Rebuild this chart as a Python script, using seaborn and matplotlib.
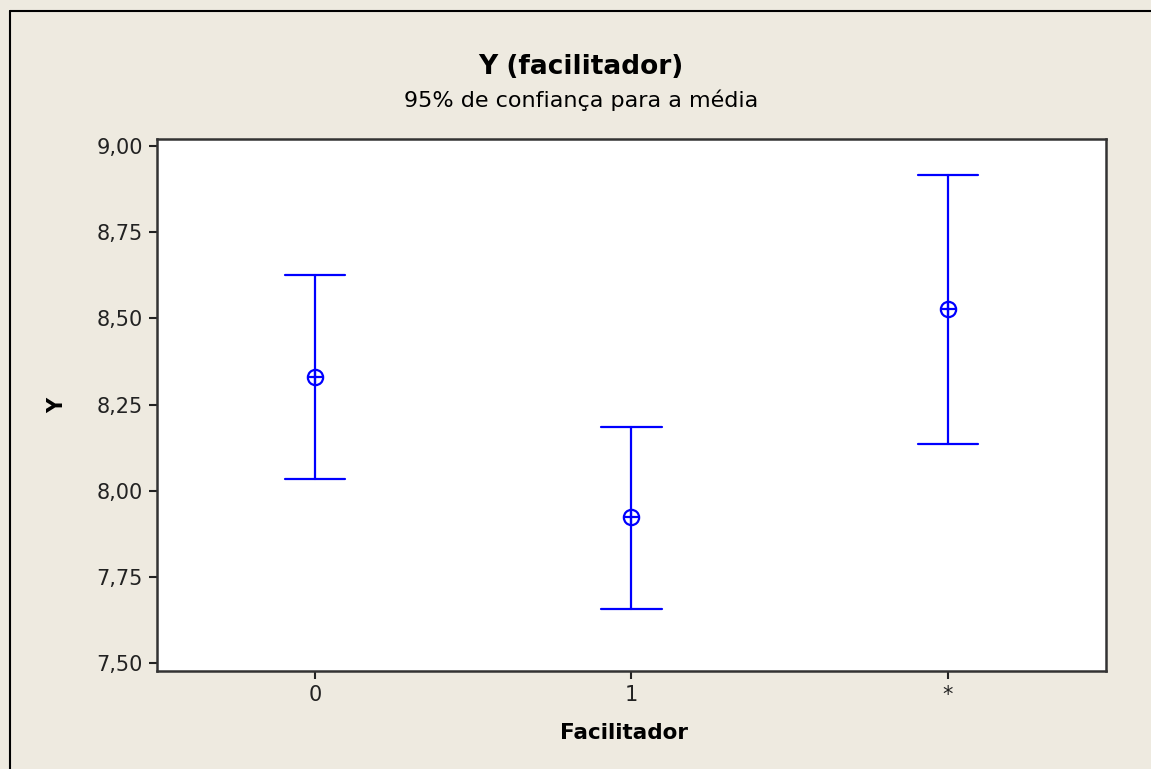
import numpy as np
import pandas as pd
import matplotlib
matplotlib.use("Agg")
import matplotlib.pyplot as plt
import seaborn as sns
from matplotlib.lines import Line2D

# Intervalo de 95% para a média de Y por Facilitador
grupos = ["0", "1", "*"]
inferior = [8.033, 7.656, 8.137]
media = [8.331, 7.923, 8.526]
superior = [8.626, 8.186, 8.916]

yticks = [7.50, 7.75, 8.00, 8.25, 8.50, 8.75, 9.00]

df = pd.DataFrame({
    "Facilitador": np.repeat(grupos, 3),
    "Y": np.column_stack([inferior, media, superior]).ravel(),
})

sns.set_style("ticks")
plt.rcParams['font.family'] = ['DejaVu Sans']

bg = "#EEEAE0"
azul = "#0000FF"

fig = plt.figure(figsize=(11.51, 7.69), dpi=100, facecolor=bg)
ax = fig.add_axes([0.1364, 0.1278, 0.8245, 0.6908])
ax.set_facecolor("white")

# median of (low, mean, high) = mean; error bar = (low, high)
sns.pointplot(data=df, x="Facilitador", y="Y", order=grupos,
              estimator="median", errorbar=lambda v: (v.min(), v.max()),
              capsize=0.19, color=azul, linestyle="none", marker="o",
              markersize=11, markeredgewidth=1.6, err_kws={"linewidth": 1.6},
              ax=ax)
for ln in ax.lines:
    if ln.get_marker() == "o":
        ln.set_markerfacecolor("none")

sns.pointplot(data=df, x="Facilitador", y="Y", order=grupos,
              estimator="median", errorbar=None, color=azul,
              linestyle="none", marker="+", markersize=11,
              markeredgewidth=1.6, ax=ax)

ax.set_xlim(-0.5, 2.5)
ax.set_ylim(7.478, 9.019)
ax.set_yticks(yticks)
ax.set_yticklabels([f"{v:.2f}".replace(".", ",") for v in yticks])
ax.set_xlabel("")
ax.set_ylabel("")
ax.tick_params(axis="both", labelsize=15, colors="#222222", length=6,
               width=1.5, pad=4)
for s in ax.spines.values():
    s.set_visible(True)
    s.set_color("#333333")
    s.set_linewidth(1.8)

fig.text(0.5045, 0.913, "Y (facilitador)", ha="center", va="center",
         fontsize=19, fontweight="bold", color="black")
fig.text(0.5045, 0.870, "95% de confiança para a média", ha="center",
         va="center", fontsize=16, color="black")
fig.text(0.0495, 0.473, "Y", ha="center", va="center", rotation=90,
         fontsize=15, fontweight="bold", color="black")
fig.text(0.5425, 0.047, "Facilitador", ha="center", va="center",
         fontsize=15.5, fontweight="bold", color="black")

# moldura (só esquerda e topo)
fig.add_artist(Line2D([10 / 1151, 10 / 1151], [0, 1 - 11 / 769],
                      transform=fig.transFigure, color="black", lw=1.5))
fig.add_artist(Line2D([10 / 1151, 1], [1 - 11 / 769, 1 - 11 / 769],
                      transform=fig.transFigure, color="black", lw=1.5))

fig.savefig("out.png", dpi=100, facecolor=bg)
